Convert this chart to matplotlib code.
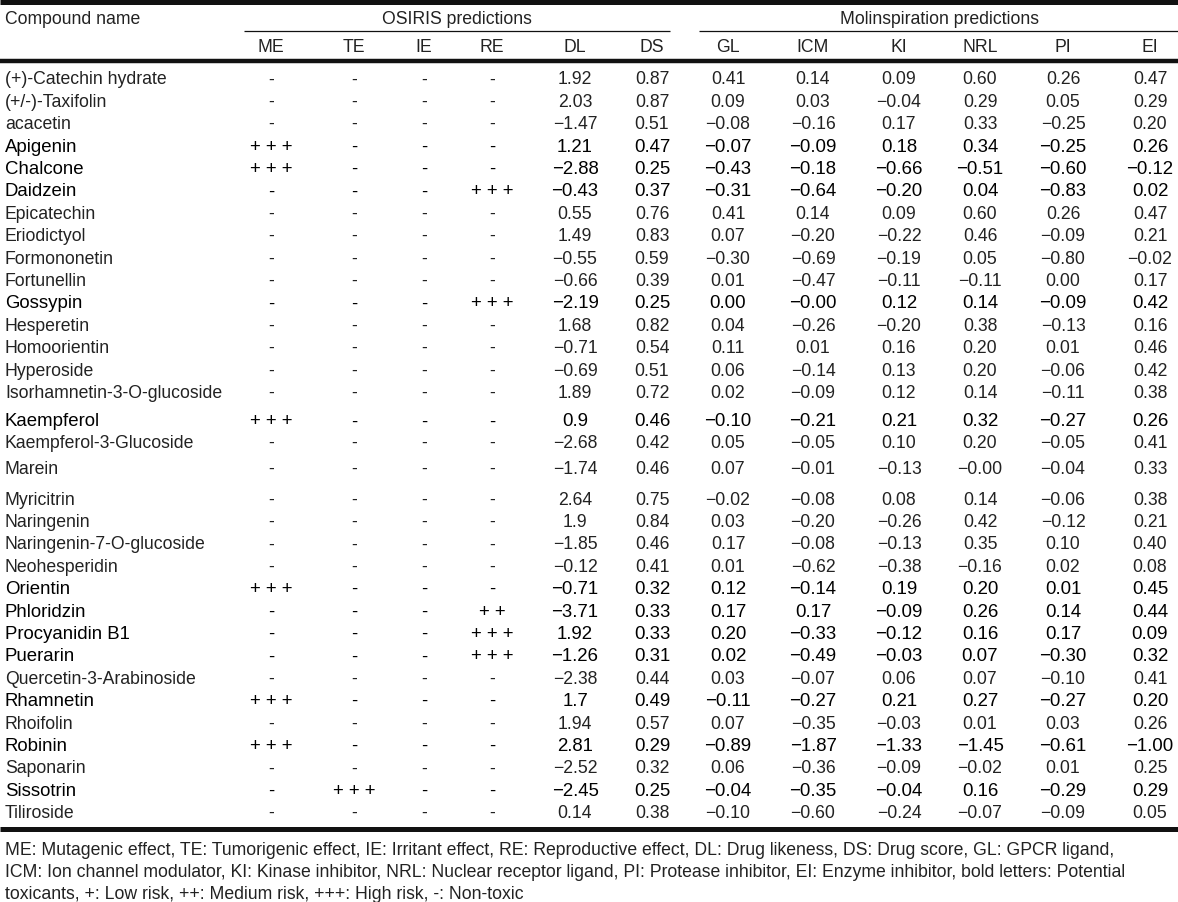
import matplotlib
matplotlib.use('Agg')
import matplotlib.pyplot as plt
from matplotlib import font_manager

installed = {f.name for f in font_manager.fontManager.ttflist}
if 'Liberation Sans Narrow' in installed:
    plt.rcParams['font.family'] = ['Liberation Sans Narrow', 'DejaVu Sans']
    fs = 14.5
else:
    plt.rcParams['font.family'] = ['Liberation Sans', 'DejaVu Sans']
    fs = 12.7

compounds = ["(+)-Catechin hydrate", "(+/-)-Taxifolin", "acacetin", "Apigenin", "Chalcone",
             "Daidzein", "Epicatechin", "Eriodictyol", "Formononetin", "Fortunellin", "Gossypin",
             "Hesperetin", "Homoorientin", "Hyperoside", "Isorhamnetin-3-O-glucoside", "Kaempferol",
             "Kaempferol-3-Glucoside", "Marein", "Myricitrin", "Naringenin", "Naringenin-7-O-glucoside",
             "Neohesperidin", "Orientin", "Phloridzin", "Procyanidin B1", "Puerarin",
             "Quercetin-3-Arabinoside", "Rhamnetin", "Rhoifolin", "Robinin", "Saponarin",
             "Sissotrin", "Tiliroside"]

me = ["-", "-", "-", "+++", "+++", "-", "-", "-", "-", "-", "-", "-", "-", "-", "-", "+++", "-",
      "-", "-", "-", "-", "-", "+++", "-", "-", "-", "-", "+++", "-", "+++", "-", "-", "-"]
te = ["-", "-", "-", "-", "-", "-", "-", "-", "-", "-", "-", "-", "-", "-", "-", "-", "-",
      "-", "-", "-", "-", "-", "-", "-", "-", "-", "-", "-", "-", "-", "-", "+++", "-"]
ie = ["-"] * 33
re_ = ["-", "-", "-", "-", "-", "+++", "-", "-", "-", "-", "+++", "-", "-", "-", "-", "-", "-",
       "-", "-", "-", "-", "-", "-", "++", "+++", "+++", "-", "-", "-", "-", "-", "-", "-"]

dl = [1.92, 2.03, -1.47, 1.21, -2.88, -0.43, 0.55, 1.49, -0.55, -0.66, -2.19, 1.68, -0.71, -0.69,
      1.89, 0.9, -2.68, -1.74, 2.64, 1.9, -1.85, -0.12, -0.71, -3.71, 1.92, -1.26, -2.38, 1.7,
      1.94, 2.81, -2.52, -2.45, 0.14]
ds = [0.87, 0.87, 0.51, 0.47, 0.25, 0.37, 0.76, 0.83, 0.59, 0.39, 0.25, 0.82, 0.54, 0.51, 0.72,
      0.46, 0.42, 0.46, 0.75, 0.84, 0.46, 0.41, 0.32, 0.33, 0.33, 0.31, 0.44, 0.49, 0.57, 0.29,
      0.32, 0.25, 0.38]
gl = [0.41, 0.09, -0.08, -0.07, -0.43, -0.31, 0.41, 0.07, -0.30, 0.01, 0.00, 0.04, 0.11, 0.06,
      0.02, -0.10, 0.05, 0.07, -0.02, 0.03, 0.17, 0.01, 0.12, 0.17, 0.20, 0.02, 0.03, -0.11,
      0.07, -0.89, 0.06, -0.04, -0.10]
icm = [0.14, 0.03, -0.16, -0.09, -0.18, -0.64, 0.14, -0.20, -0.69, -0.47, -0.0, -0.26, 0.01,
       -0.14, -0.09, -0.21, -0.05, -0.01, -0.08, -0.20, -0.08, -0.62, -0.14, 0.17, -0.33, -0.49,
       -0.07, -0.27, -0.35, -1.87, -0.36, -0.35, -0.60]
ki = [0.09, -0.04, 0.17, 0.18, -0.66, -0.20, 0.09, -0.22, -0.19, -0.11, 0.12, -0.20, 0.16, 0.13,
      0.12, 0.21, 0.10, -0.13, 0.08, -0.26, -0.13, -0.38, 0.19, -0.09, -0.12, -0.03, 0.06, 0.21,
      -0.03, -1.33, -0.09, -0.04, -0.24]
nrl = [0.60, 0.29, 0.33, 0.34, -0.51, 0.04, 0.60, 0.46, 0.05, -0.11, 0.14, 0.38, 0.20, 0.20,
       0.14, 0.32, 0.20, -0.0, 0.14, 0.42, 0.35, -0.16, 0.20, 0.26, 0.16, 0.07, 0.07, 0.27, 0.01,
       -1.45, -0.02, 0.16, -0.07]
pi = [0.26, 0.05, -0.25, -0.25, -0.60, -0.83, 0.26, -0.09, -0.80, 0.00, -0.09, -0.13, 0.01,
      -0.06, -0.11, -0.27, -0.05, -0.04, -0.06, -0.12, 0.10, 0.02, 0.01, 0.14, 0.17, -0.30, -0.10,
      -0.27, 0.03, -0.61, 0.01, -0.29, -0.09]
ei = [0.47, 0.29, 0.20, 0.26, -0.12, 0.02, 0.47, 0.21, -0.02, 0.17, 0.42, 0.16, 0.46, 0.42, 0.38,
      0.26, 0.41, 0.33, 0.38, 0.21, 0.40, 0.08, 0.45, 0.44, 0.09, 0.32, 0.41, 0.20, 0.26, -1.00,
      0.25, 0.29, 0.05]

col_labels = ["ME", "TE", "IE", "RE", "DL", "DS", "GL", "ICM", "KI", "NRL", "PI", "EI"]

footnote = ["ME: Mutagenic effect, TE: Tumorigenic effect, IE: Irritant effect, RE: Reproductive effect, DL: Drug likeness, DS: Drug score, GL: GPCR ligand,",
            "ICM: Ion channel modulator, KI: Kinase inhibitor, NRL: Nuclear receptor ligand, PI: Protease inhibitor, EI: Enzyme inhibitor, bold letters: Potential",
            "toxicants, +: Low risk, ++: Medium risk, +++: High risk, -: Non-toxic"]

# layout (pixels)
W, H = 1178, 903
col_x = [271, 354, 424, 492, 575, 652, 728, 813, 899, 980, 1063, 1150]
row0, row_step = 80, 22.4
row_shift = {15: 6, 16: 5, 17: 9}


def fmt(v, dec=2):
    s = f"{v:g}" if dec is None else f"{v:.{dec}f}"
    return s.replace("-", "\u2212")


def risk(s):
    return s if s == "-" else " ".join(s)


fig = plt.figure(figsize=(W / 100, H / 100), dpi=100)
ax = fig.add_axes([0, 0, 1, 1])
ax.set_xlim(0, W)
ax.set_ylim(H, 0)
ax.axis('off')

ink = '#222222'

# rules
ax.hlines(2.5, 0, W, color='#111', lw=3.6)
ax.hlines(61.5, 0, W, color='#111', lw=3.2)
ax.hlines(830, 0, W, color='#111', lw=3.6)
ax.hlines(32, 244, 670, color='#111', lw=0.9)
ax.hlines(32, 699, W, color='#111', lw=0.9)

# header
ax.text(5, 19, "Compound name", fontsize=fs, color=ink, va='center')
ax.text(457, 19, "OSIRIS predictions", fontsize=fs, color=ink, va='center', ha='center')
ax.text(939, 19, "Molinspiration predictions", fontsize=fs, color=ink, va='center', ha='center')
for x, lab in zip(col_x, col_labels):
    ax.text(x, 47, lab, fontsize=fs, color=ink, va='center', ha='center')

# body
for i, name in enumerate(compounds):
    y = row0 + i * row_step
    if i >= 18:
        y += 17
    else:
        y += row_shift.get(i, 0)
    toxic = any(c[i] != "-" for c in (me, te, ie, re_))
    size = fs + 0.7 if toxic else fs
    color = 'black' if toxic else ink
    cells = [risk(me[i]), risk(te[i]), risk(ie[i]), risk(re_[i]), fmt(dl[i], None), fmt(ds[i]),
             fmt(gl[i]), fmt(icm[i]), fmt(ki[i]), fmt(nrl[i]), fmt(pi[i]), fmt(ei[i])]
    ax.text(5, y, name, fontsize=size, color=color, va='center')
    for x, c in zip(col_x, cells):
        ax.text(x, y, c, fontsize=size, color=color, va='center', ha='center')

for k, line in enumerate(footnote):
    ax.text(5, 851 + k * 22, line, fontsize=fs, color=ink, va='center')

fig.savefig("out.png", dpi=100)
plt.close(fig)
